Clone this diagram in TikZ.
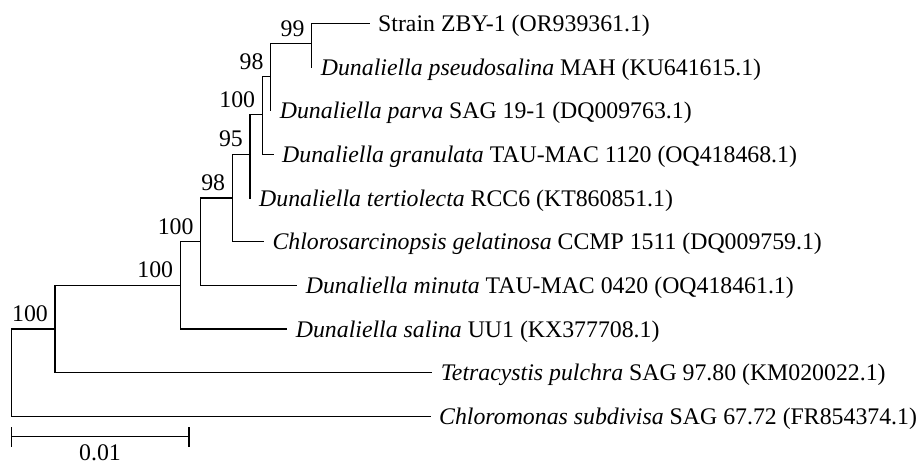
\documentclass[tikz,border=0pt]{standalone}
\usepackage{fontspec}
\setmainfont{Liberation Serif}
\begin{document}
\begin{tikzpicture}[x=1pt,y=-1pt,
  branch/.style={line width=1.3pt,line cap=rect},
  lbl/.style={font=\fontsize{23.8}{28.5}\selectfont},
  taxon/.style={lbl,anchor=base west,inner sep=0pt,xshift=9pt,yshift=-8pt},
  boot/.style={lbl,anchor=south east,inner sep=0pt,xshift=-7pt,yshift=7pt}]
\path[use as bounding box] (0,0) rectangle (923,464);

% internal nodes
\coordinate (R) at (11.7,372.6);
\coordinate (H) at (55,329);
\coordinate (G) at (180.3,285.3);
\coordinate (F) at (200.7,241.6);
\coordinate (E) at (232.3,198);
\coordinate (D) at (250,154.3);
\coordinate (C) at (262.3,114.5);
\coordinate (B) at (270.7,76.5);
\coordinate (A) at (311.7,43.5);

% tips
\coordinate (l1) at (369,23.3);
\coordinate (l2) at (311.7,67);
\coordinate (l3) at (270.7,110.6);
\coordinate (l4) at (273,154.3);
\coordinate (l5) at (250,198);
\coordinate (l6) at (263.3,241.6);
\coordinate (l7) at (296.7,285.3);
\coordinate (l8) at (286.7,329);
\coordinate (l9) at (431.7,372.6);
\coordinate (l10) at (430,416.3);

% branches
\draw[branch] (A) |- (l1);
\draw[branch] (A) |- (l2);
\draw[branch] (B) |- (A);
\draw[branch] (B) |- (l3);
\draw[branch] (C) |- (B);
\draw[branch] (C) |- (l4);
\draw[branch] (D) |- (C);
\draw[branch] (D) |- (l5);
\draw[branch] (E) |- (D);
\draw[branch] (E) |- (l6);
\draw[branch] (F) |- (E);
\draw[branch] (F) |- (l7);
\draw[branch] (G) |- (F);
\draw[branch] (G) |- (l8);
\draw[branch] (H) |- (G);
\draw[branch] (H) |- (l9);
\draw[branch] (R) |- (H);
\draw[branch] (R) |- (l10);

% tip labels
\node[taxon] (t1) at (l1) {Strain ZBY-1 (OR939361.1)};
\node[taxon] (t2) at (l2) {\textit{Dunaliella pseudosalina} MAH (KU641615.1)};
\node[taxon] (t3) at (l3) {\textit{Dunaliella parva} SAG 19-1 (DQ009763.1)};
\node[taxon] (t4) at (l4) {\textit{Dunaliella granulata} TAU-MAC 1120 (OQ418468.1)};
\node[taxon] (t5) at (l5) {\textit{Dunaliella tertiolecta} RCC6 (KT860851.1)};
\node[taxon] (t6) at (l6) {\textit{Chlorosarcinopsis gelatinosa} CCMP 1511 (DQ009759.1)};
\node[taxon] (t7) at (l7) {\textit{Dunaliella minuta} TAU-MAC 0420 (OQ418461.1)};
\node[taxon] (t8) at (l8) {\textit{Dunaliella salina} UU1 (KX377708.1)};
\node[taxon] (t9) at (l9) {\textit{Tetracystis pulchra} SAG 97.80 (KM020022.1)};
\node[taxon] (t10) at (l10) {\textit{Chloromonas subdivisa} SAG 67.72 (FR854374.1)};

% bootstrap values
\node[boot] (bA) at (A) {99};
\node[boot] (bB) at (B) {98};
\node[boot] (bC) at (C) {100};
\node[boot] (bD) at (D) {95};
\node[boot] (bE) at (E) {98};
\node[boot] (bF) at (F) {100};
\node[boot] (bG) at (G) {100};
\node[boot] (bH) at (H) {100};

% scale bar
\coordinate (s0) at (11.7,436.7);
\coordinate (s1) at (189,436.7);
\draw[branch] (s0) -- (s1);
\draw[branch] ([yshift=9pt]s0) -- ([yshift=-9.3pt]s0);
\draw[branch] ([yshift=9pt]s1) -- ([yshift=-9.3pt]s1);
\node[lbl,anchor=base,inner sep=0pt] (sl) at (100,460) {0.01};
\end{tikzpicture}
\end{document}
